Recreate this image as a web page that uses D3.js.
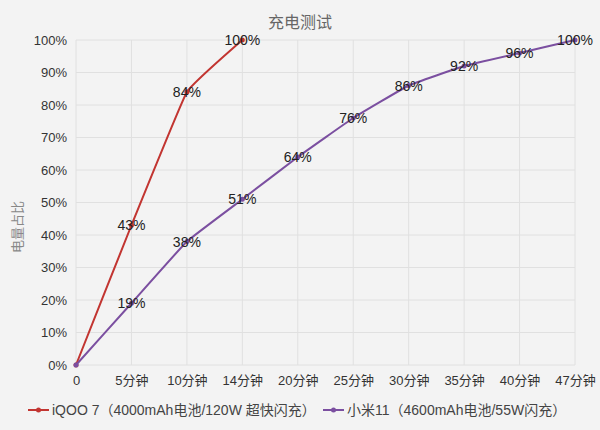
<!DOCTYPE html>
<html><head><meta charset="utf-8">
<script src="https://cdn.jsdelivr.net/npm/d3@7/dist/d3.min.js"></script>
<style>
html,body{margin:0;padding:0;background:#f3f3f3;}
text{font-family:"Liberation Sans","Noto Sans CJK SC",sans-serif;}
</style></head><body>
<svg id="c" width="600" height="430"></svg>
<script>
const categories = ["0","5分钟","10分钟","14分钟","20分钟","25分钟","30分钟","35分钟","40分钟","47分钟"];
const iqooValues = [0,43,84,100];
const miValues = [0,19,38,51,64,76,86,92,96,100];
const yTicks = [0,10,20,30,40,50,60,70,80,90,100];
const seriesNames = ["iQOO 7（4000mAh电池/120W 超快闪充）","小米11（4600mAh电池/55W闪充）"];
const colors = ["#c23531","#7b4fa0"];

(function(){
const svg = d3.select("#c");
svg.append("rect").attr("width",600).attr("height",430).attr("fill","#f3f3f3");
const pl=76,pr=575,pt=40,pb=365;
const x = d3.scalePoint().domain(categories).range([pl,pr]);
const y = d3.scaleLinear().domain([0,100]).range([pb,pt]);

const g = svg.append("g");
g.selectAll(".vg").data(categories).enter().append("line")
 .attr("x1",d=>x(d)).attr("x2",d=>x(d)).attr("y1",pt).attr("y2",pb)
 .attr("stroke","#e0e0e0").attr("stroke-width",1);
g.selectAll(".hg").data(yTicks).enter().append("line")
 .attr("x1",pl).attr("x2",pr).attr("y1",d=>y(d)).attr("y2",d=>y(d))
 .attr("stroke","#e0e0e0").attr("stroke-width",1);

const yAxis = d3.axisLeft(y).tickValues(yTicks).tickFormat(d=>d+"%").tickSize(0).tickPadding(9);
const ya = svg.append("g").attr("transform",`translate(${pl},0)`).call(yAxis);
ya.select(".domain").remove();
ya.selectAll("text").attr("fill","#333").style("font-size","13px");
const xAxis = d3.axisBottom(x).tickSize(0).tickPadding(11);
const xa = svg.append("g").attr("transform",`translate(0,${pb})`).call(xAxis);
xa.select(".domain").remove();
xa.selectAll("text").attr("fill","#333").style("font-size","13px");

svg.append("text").attr("x",300).attr("y",28).attr("text-anchor","middle")
 .attr("fill","#666").style("font-size","16px").text("充电测试");
svg.append("text").attr("transform","translate(22,227) rotate(-90)").attr("text-anchor","middle")
 .attr("fill","#888").style("font-size","13px").text("电量占比");

const line = d3.line().x(d=>x(d.c)).y(d=>y(d.v)).curve(d3.curveCardinal.tension(0.75));
const series = [iqooValues, miValues].map(vals=>vals.map((v,i)=>({c:categories[i],v:v})));
series.forEach((pts,si)=>{
  svg.append("path").attr("d",line(pts)).attr("fill","none")
    .attr("stroke",colors[si]).attr("stroke-width",2);
  svg.append("g").selectAll("circle").data(pts).enter().append("circle")
    .attr("cx",d=>x(d.c)).attr("cy",d=>y(d.v)).attr("r",2.5)
    .attr("fill",colors[si]);
});
series.forEach((pts,si)=>{
  svg.append("g").selectAll("text").data(pts.slice(1)).enter().append("text")
    .attr("x",d=>x(d.c)).attr("y",d=>y(d.v)+5)
    .attr("text-anchor","middle").attr("fill","#222").style("font-size","14px")
    .text(d=>d.v+"%");
});

const legX=[28,323];
seriesNames.forEach((n,i)=>{
  svg.append("line").attr("x1",legX[i]).attr("x2",legX[i]+21).attr("y1",410).attr("y2",410)
   .attr("stroke",colors[i]).attr("stroke-width",2);
  svg.append("circle").attr("cx",legX[i]+10.5).attr("cy",410).attr("r",2.5).attr("fill",colors[i]);
  svg.append("text").attr("x",legX[i]+24).attr("y",415).attr("fill","#444")
   .style("font-size","14px").text(n);
});
})();
</script></body></html>
